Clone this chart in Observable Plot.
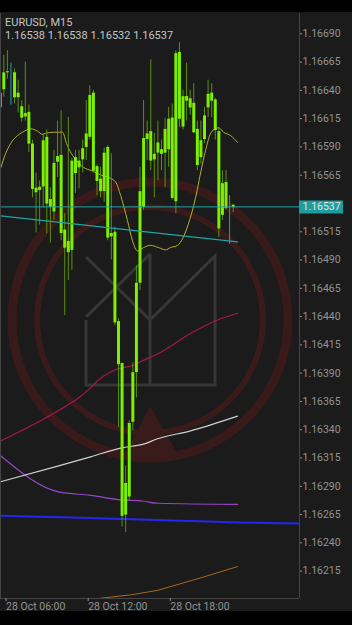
<!DOCTYPE html>
<html><head><meta charset="utf-8">
<script src="https://cdn.jsdelivr.net/npm/d3@7"></script>
<script src="https://cdn.jsdelivr.net/npm/@observablehq/plot@0.6"></script>
<style>
html,body{margin:0;padding:0;background:#000;}
#wrap{position:relative;width:352px;height:625px;background:#000;overflow:hidden;font-family:Roboto,sans-serif;}
#chart{position:absolute;top:12px;left:0;width:352px;height:599px;background:#1b1b1b;}
#wm{position:absolute;left:0;top:0;}
#plot{position:absolute;left:0;top:0;}
#hdr{position:absolute;left:5px;top:16px;font-size:11px;line-height:13px;color:#c4c4c4;}
</style></head>
<body>
<div id="wrap">
  <div id="chart">
    <svg id="wm" width="352" height="599" viewBox="0 12 352 599">
      <circle cx="150" cy="320" r="138" fill="none" stroke="#381a1a" stroke-width="9"/>
      <circle cx="150" cy="320" r="113" fill="none" stroke="#3a1b1b" stroke-width="6"/>
      <path d="M150,406 L125,455 L178,455 Z" fill="#3a1b1b"/>
      <g fill="none" stroke="#373737" stroke-width="3">
        <path d="M86,257 L150,320 L215,256 L215,385 L86,385 L86,320"/>
        <path d="M150,254 L86,317"/>
        <path d="M150,254 L150,386"/>
      </g>
    </svg>
    <div id="plot"></div>
  </div>
  <div id="hdr"><div>EURUSD, M15</div><div>1.16538 1.16538 1.16532 1.16537</div></div>
</div>
<script>
// ---- data ----
const barIndex = [-1,0,1,3,4,5,6,7,8,9,10,11,12,13,14,15,16,17,18,19,20,21,22,23,24,25,26,27,28,29,30,31,32,33,34,35,36,37,38,39,40,41,42,43,44,45,46,47,48,49,50,51,52,53,54,55,56,57,58,59,60,61,62,64];
const opens  = [1.16624,1.16640,1.16655,1.16655,1.16633,1.16625,1.16616,1.16620,1.16592,1.16553,1.16551,1.16554,1.16598,1.16536,1.16532,1.16576,1.16582,1.16516,1.16496,1.16498,1.16580,1.16571,1.16578,1.16589,1.16598,1.16637,1.16572,1.16561,1.16550,1.16589,1.16510,1.16514,1.16435,1.16398,1.16264,1.16280,1.16346,1.16390,1.16469,1.16536,1.16596,1.16603,1.16578,1.16584,1.16587,1.16584,1.16587,1.16615,1.16541,1.16673,1.16607,1.16634,1.16632,1.16628,1.16605,1.16580,1.16596,1.16624,1.16637,1.16631,1.16603,1.16529,1.16558,1.16538];
const highs  = [1.16640,1.16671,1.16675,1.16659,1.16649,1.16631,1.16665,1.16627,1.16596,1.16567,1.16560,1.16602,1.16605,1.16554,1.16587,1.16613,1.16622,1.16531,1.16616,1.16580,1.16587,1.16587,1.16596,1.16631,1.16644,1.16640,1.16574,1.16572,1.16589,1.16591,1.16584,1.16519,1.16438,1.16399,1.16308,1.16348,1.16399,1.16485,1.16572,1.16631,1.16613,1.16667,1.16602,1.16613,1.16596,1.16615,1.16625,1.16628,1.16675,1.16682,1.16640,1.16664,1.16640,1.16646,1.16613,1.16613,1.16625,1.16649,1.16646,1.16633,1.16607,1.16569,1.16569,1.16538];
const lows   = [1.16620,1.16634,1.16650,1.16628,1.16620,1.16612,1.16613,1.16585,1.16545,1.16514,1.16521,1.16536,1.16513,1.16505,1.16525,1.16563,1.16507,1.16441,1.16472,1.16481,1.16549,1.16553,1.16567,1.16578,1.16596,1.16567,1.16547,1.16545,1.16541,1.16507,1.16490,1.16432,1.16342,1.16254,1.16249,1.16277,1.16339,1.16368,1.16463,1.16534,1.16578,1.16569,1.16545,1.16560,1.16569,1.16554,1.16572,1.16543,1.16531,1.16607,1.16605,1.16613,1.16618,1.16602,1.16569,1.16575,1.16593,1.16616,1.16616,1.16596,1.16510,1.16525,1.16534,1.16532];
const closes = [1.16638,1.16656,1.16657,1.16634,1.16638,1.16616,1.16620,1.16593,1.16553,1.16550,1.16555,1.16596,1.16540,1.16544,1.16576,1.16582,1.16514,1.16501,1.16507,1.16578,1.16567,1.16578,1.16589,1.16602,1.16636,1.16569,1.16560,1.16551,1.16585,1.16510,1.16514,1.16435,1.16398,1.16264,1.16293,1.16346,1.16391,1.16470,1.16551,1.16598,1.16602,1.16578,1.16584,1.16594,1.16584,1.16606,1.16615,1.16545,1.16673,1.16615,1.16635,1.16631,1.16625,1.16603,1.16574,1.16596,1.16618,1.16637,1.16631,1.16605,1.16518,1.16558,1.16536,1.16537];

// cyan vertical markers
const markerIndex = [2, 63];
const markerHigh  = [1.16664, 1.16547];
const markerLow   = [1.16627, 1.16504];

// indicator lines (bar position, price)
const yellowX = [-0.9,0.5,1.9,3.8,5.2,7.5,9.4,10.8,11.6,13.9,16.4,17.5,18.9,20.3,22.2,24.5,27.3,29.2,31.2,32.6,34.5,35.9,37.3,39.0,40.9,43.2,45.1,46.5,48.5,49.9,51.5,53.5,54.9,56.3,57.7,59.1,59.9,61.3,63.3,65.2];
const yellowY = [1.16571,1.16584,1.16593,1.16600,1.16603,1.16606,1.16604,1.16601,1.16602,1.16603,1.16603,1.16593,1.16584,1.16578,1.16572,1.16569,1.16565,1.16563,1.16559,1.16547,1.16525,1.16507,1.16498,1.16501,1.16503,1.16501,1.16499,1.16501,1.16503,1.16509,1.16522,1.16545,1.16567,1.16587,1.16602,1.16606,1.16607,1.16603,1.16600,1.16594];
const crimsonX = [-0.9,15.3,20.8,24.2,26.4,29.8,32.0,36.2,38.7,42.9,52.1,59.6,65.2];
const crimsonY = [1.16330,1.16357,1.16368,1.16377,1.16384,1.16391,1.16394,1.16397,1.16401,1.16407,1.16425,1.16437,1.16443];
const whiteX = [-0.9,15.3,24.2,32.8,38.7,42.9,52.1,65.2];
const whiteY = [1.16294,1.16308,1.16316,1.16324,1.16327,1.16332,1.16339,1.16352];
const purpleX = [-0.9,15.3,24.2,32.8,38.7,42.9,65.2];
const purpleY = [1.16317,1.16285,1.16282,1.16278,1.16277,1.16275,1.16274];
const blueX = [-0.9,24.2,66.0,82.5];
const blueY = [1.16264,1.16262,1.16258,1.16257];
const orangeX = [21.4,27.0,35.4,42.9,54.9,65.2];
const orangeY = [1.16187,1.16191,1.16194,1.16198,1.16209,1.16219];
const trendX = [-0.9, 65.2];
const trendY = [1.16529, 1.16506];
const lastPrice = 1.16537;

// axes (the 1.16540 level sits under the price tag)
const yTicks = [1.16215,1.16240,1.16265,1.16290,1.16315,1.16340,1.16365,1.16390,1.16415,1.16440,1.16465,1.16490,1.16515,1.16565,1.16590,1.16615,1.16640,1.16665,1.16690];
const xTickIdx = [0.5, 23.4, 46.3];
const xTickLabels = ["28 Oct 06:00", "28 Oct 12:00", "28 Oct 18:00"];
const xDomain = [-0.92, 82.5];
const yDomain = [1.161908, 1.1670795];

// ---- build ----
const candles = barIndex.map((i, k) => ({i, open: opens[k], high: highs[k], low: lows[k], close: closes[k]}));
const markers = markerIndex.map((i, k) => ({i, high: markerHigh[k], low: markerLow[k]}));
const pts = (xs, ys) => xs.map((x, k) => ({x, y: ys[k]}));

const BODY = "#7df000", WICK = "#5b8f0c", CYAN = "#1fa6a6";

const chart = Plot.plot({
  width: 352, height: 599,
  marginLeft: 0, marginRight: 53, marginTop: 1, marginBottom: 13,
  style: {background: "transparent", color: "#939393", fontFamily: "Roboto, sans-serif", fontSize: "10.5px", overflow: "visible"},
  x: {domain: xDomain, axis: null},
  y: {domain: yDomain, axis: null},
  marks: [
    Plot.line(pts(orangeX, orangeY), {x: "x", y: "y", stroke: "#a8691c", strokeWidth: 1, clip: true}),
    Plot.line(pts(blueX, blueY), {x: "x", y: "y", stroke: "#2626f2", strokeWidth: 2, clip: true}),
    Plot.line(pts(purpleX, purpleY), {x: "x", y: "y", stroke: "#9446c8", strokeWidth: 1.2, curve: "monotone-x", clip: true}),
    Plot.line(pts(whiteX, whiteY), {x: "x", y: "y", stroke: "#cfcfcf", strokeWidth: 1.2, curve: "monotone-x", clip: true}),
    Plot.line(pts(crimsonX, crimsonY), {x: "x", y: "y", stroke: "#a8184e", strokeWidth: 1.2, curve: "monotone-x", clip: true}),
    Plot.line(pts(yellowX, yellowY), {x: "x", y: "y", stroke: "#b2b12c", strokeWidth: 1, curve: "monotone-x", clip: true}),
    Plot.ruleX(candles, {x: "i", y1: "low", y2: "high", stroke: WICK, strokeWidth: 1, clip: true}),
    Plot.ruleX(candles, {x: "i", y1: "open", y2: "close", stroke: BODY, strokeWidth: 3, insetTop: -0.6, insetBottom: -0.6, clip: true}),
    Plot.ruleX(markers, {x: "i", y1: "low", y2: "high", stroke: CYAN, strokeWidth: 1, clip: true}),
    Plot.ruleY([lastPrice], {stroke: CYAN, strokeWidth: 1}),
    Plot.line(pts(trendX, trendY), {x: "x", y: "y", stroke: CYAN, strokeWidth: 1.2, clip: true}),
    // frame lines
    Plot.ruleX([xDomain[0], xDomain[1]], {stroke: "#444", strokeWidth: 1}),
    Plot.ruleY([yDomain[0]], {stroke: "#444", strokeWidth: 1}),
    // axes
    Plot.axisY(yTicks, {anchor: "right", tickSize: 2, tickPadding: 1, tickFormat: d => d.toFixed(5), color: "#939393"}),
    Plot.axisX(xTickIdx, {anchor: "bottom", tickSize: 3, tickPadding: 1, textAnchor: "start", dx: 0.5,
      tickFormat: d => xTickLabels[xTickIdx.indexOf(d)], color: "#939393"}),
    // current price tag
    Plot.ruleY([lastPrice], {x1: xDomain[1], x2: xDomain[1] + 12.3, stroke: "#1f9d9d", strokeWidth: 13}),
    Plot.text([lastPrice], {x: xDomain[1], y: d => d, text: d => d.toFixed(5), textAnchor: "start", dx: 3, fill: "#e4e4e4", fontSize: 10.5})
  ]
});
document.getElementById("plot").appendChild(chart);
</script>
</body></html>
